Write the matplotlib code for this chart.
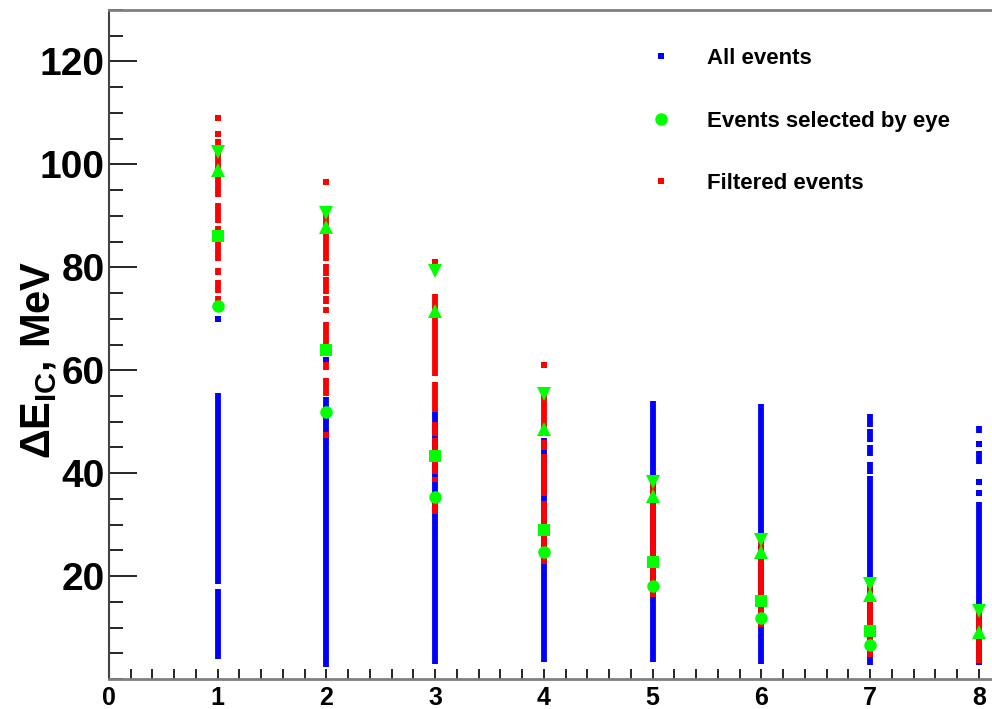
import numpy as np
import matplotlib
matplotlib.use("Agg")
import matplotlib.pyplot as plt
from matplotlib.ticker import MultipleLocator
from matplotlib.lines import Line2D

plt.rcParams['font.family'] = ['Liberation Sans', 'DejaVu Sans']
plt.rcParams['font.weight'] = 'bold'
plt.rcParams['mathtext.fontset'] = 'custom'
plt.rcParams['mathtext.rm'] = 'Liberation Sans:bold'
plt.rcParams['mathtext.it'] = 'Liberation Sans:bold'
plt.rcParams['mathtext.bf'] = 'Liberation Sans:bold'

# categories on the x axis
x_cat = [1, 2, 3, 4, 5, 6, 7, 8]

# "All events" (blue): dense columns, kept as (x, low, high) strips plus lone points
blue_x = [1, 1, 2, 3, 4, 5, 6, 7, 7, 7, 7, 7, 8, 8, 8]
blue_lo = [3.9, 18.5, 2.4, 2.9, 3.3, 3.3, 2.9, 2.7, 39.8, 43.3, 46.0, 48.9, 2.7, 41.7, 47.8]
blue_hi = [17.5, 55.5, 54.8, 51.8, 46.8, 54.0, 53.4, 39.4, 42.1, 45.4, 48.5, 51.5, 34.4, 44.3, 49.1]
blue_dot_x = [1, 2, 8, 8, 8]
blue_dot_y = [70.0, 62.0, 45.6, 38.3, 36.1]

# "Filtered events" (red)
red_x = [1, 1, 1, 1, 1, 1,
         2, 2, 2, 2, 2, 2, 2, 2, 2,
         3, 3, 3, 3, 3, 3, 3, 3,
         4, 4, 4, 4,
         5, 5, 6, 7, 8]
red_lo = [93.6, 88.7, 81.2, 78.6, 75.1, 71.8,
          81.2, 78.3, 74.8, 72.8, 71.1, 65.0, 60.0, 55.0, 46.8,
          58.8, 51.8, 47.2, 44.1, 42.3, 39.8, 38.3, 32.0,
          47.5, 44.5, 35.5, 22.3,
          23.9, 15.9, 10.1, 4.3, 3.1]
red_hi = [104.9, 92.4, 88.0, 79.8, 77.5, 74.4,
          91.8, 80.6, 78.1, 74.4, 72.2, 69.3, 61.6, 58.4, 48.0,
          74.8, 57.7, 49.9, 46.8, 44.1, 42.3, 39.2, 34.4,
          55.5, 46.5, 43.8, 34.5,
          39.4, 21.7, 27.8, 18.8, 13.6]
red_dot_x = [1, 1, 2, 3, 4]
red_dot_y = [109.1, 105.9, 96.6, 81.0, 61.0]

# "Events selected by eye" (green)
eye_circle = [72.4, 51.8, 35.3, 24.7, 18.1, 11.8, 6.6, np.nan]
eye_square = [86.0, 63.9, 43.3, 28.9, 22.7, 15.1, 9.3, np.nan]
eye_tri_up = [99.0, 87.8, 71.5, 48.5, 35.5, 24.7, 16.3, 9.1]
eye_tri_down = [102.5, 90.5, 79.2, 55.3, 38.3, 27.0, 18.4, 13.2]

fig = plt.figure(figsize=(9.92, 7.09), dpi=100)
ax = fig.add_axes([109 / 992, 30 / 709, 883 / 992, 669 / 709])

strip_w = 4.2
ax.vlines(blue_x, blue_lo, blue_hi, colors='#0000ff', lw=strip_w, zorder=2)
ax.plot(blue_dot_x, blue_dot_y, 's', color='#0000ff', ms=4, mew=0, zorder=2)
ax.vlines(red_x, red_lo, red_hi, colors='#ff0000', lw=strip_w, zorder=3)
ax.plot(red_dot_x, red_dot_y, 's', color='#ff0000', ms=4.2, mew=0, zorder=3)

g = '#00ff00'
ax.plot(x_cat, eye_tri_down, 'v', color=g, ms=10, mew=0, ls='none', zorder=4)
ax.plot(x_cat, eye_tri_up, '^', color=g, ms=10, mew=0, ls='none', zorder=4)
ax.plot(x_cat, eye_square, 's', color=g, ms=9, mew=0, ls='none', zorder=4)
ax.plot(x_cat, eye_circle, 'o', color=g, ms=9, mew=0, ls='none', zorder=4)

ax.set_xlim(0, 8.12)
ax.set_ylim(0, 130)

ax.xaxis.set_major_locator(MultipleLocator(1))
ax.xaxis.set_minor_locator(MultipleLocator(0.2))
ax.yaxis.set_minor_locator(MultipleLocator(5))
ax.set_yticks([20, 40, 60, 80, 100, 120])

ax.tick_params(axis='x', which='both', direction='in', length=7, width=1.2,
               labelsize=18, pad=5)
ax.tick_params(axis='y', which='major', direction='in', length=20, width=1.2,
               labelsize=28, pad=3)
ax.tick_params(axis='y', which='minor', direction='in', length=10, width=1.2)
ax.tick_params(top=False, right=False, which='both')

for side in ['top', 'bottom']:
    ax.spines[side].set_color('#808080')
    ax.spines[side].set_linewidth(2)
ax.spines['left'].set_color('#444444')
ax.spines['left'].set_linewidth(1.5)
ax.spines['right'].set_visible(False)

ax.set_ylabel(r'$ΔE_{IC}$, MeV', fontsize=30, fontweight='bold')
ax.yaxis.set_label_coords(-0.056, 0.477)

handles = [
    Line2D([], [], marker='s', color='#0000ff', ms=4, mew=0, ls='none'),
    Line2D([], [], marker='o', color=g, ms=9, mew=0, ls='none'),
    Line2D([], [], marker='s', color='#ff0000', ms=5, mew=0, ls='none'),
]
labels = ['All events', 'Events selected by eye', 'Filtered events']
fig.legend(handles, labels, loc='upper left', bbox_to_anchor=(624 / 992, 1 - 28 / 709),
           frameon=False, labelspacing=1.87, handletextpad=1.33,
           handlelength=1.5, prop={'weight': 'bold', 'size': 16})

fig.savefig('out.png', dpi=100)
